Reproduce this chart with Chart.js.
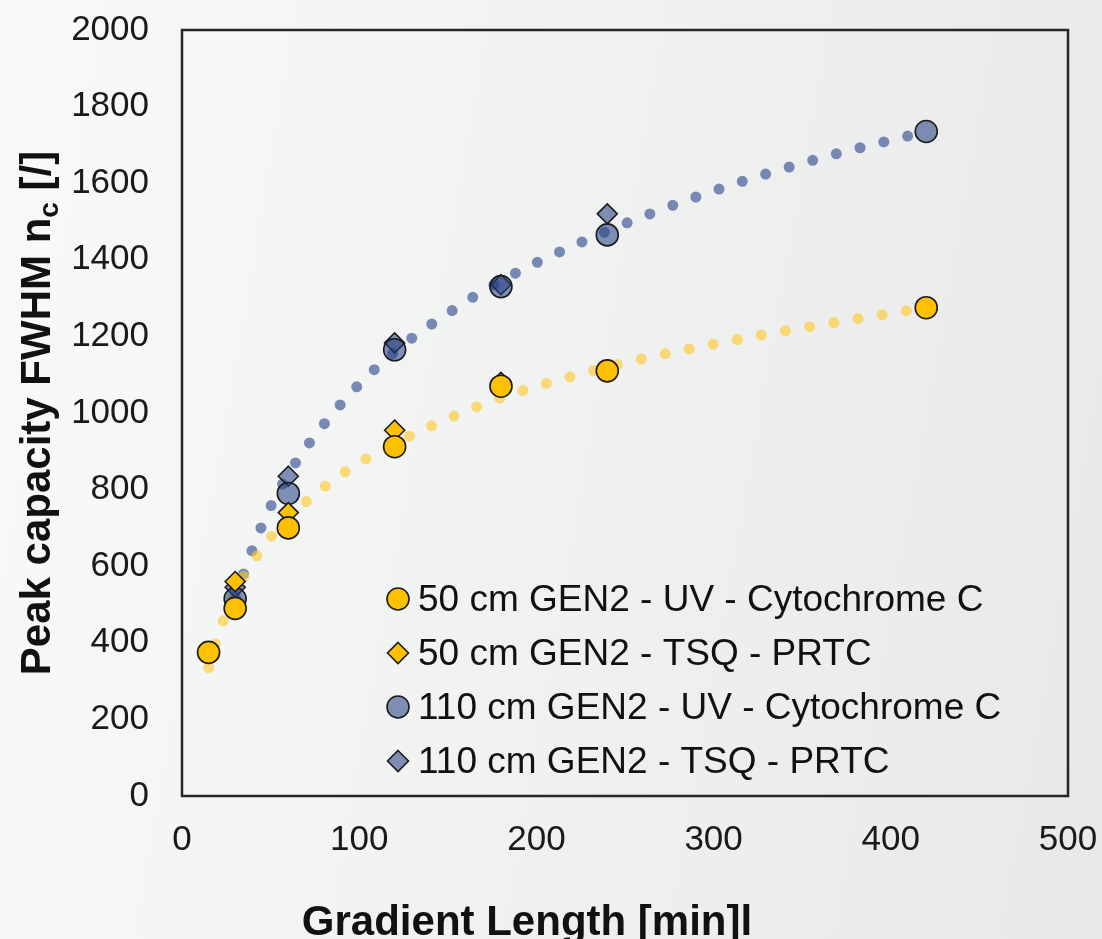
<!DOCTYPE html>
<html>
<head>
<meta charset="utf-8">
<title>Peak capacity vs gradient length</title>
<script src="https://cdn.jsdelivr.net/npm/chart.js@4.4.1/dist/chart.umd.min.js"></script>
<style>
  html, body { margin: 0; padding: 0; }
  body {
    width: 1102px;
    height: 939px;
    background: linear-gradient(100deg, #f8f9f9 0%, #f1f2f2 45%, #e8e8e8 100%);
    overflow: hidden;
  }
</style>
</head>
<body>
<canvas id="chart" width="1102" height="939"></canvas>
<script>
// measured peak capacities (x = gradient length in min)
const uv50X = [15, 30, 60, 120, 180, 240, 420];
const uv50Y = [375, 490, 700, 912, 1070, 1110, 1275];
const tsq50X = [30, 60, 120, 180];
const tsq50Y = [560, 740, 955, 1080];
const uv110X = [30, 60, 120, 180, 240, 420];
const uv110Y = [515, 790, 1165, 1330, 1465, 1735];
const tsq110X = [30, 60, 120, 180, 240];
const tsq110Y = [545, 835, 1183, 1335, 1520];

// dotted trend curves
const trend50X = [15, 20, 30, 45, 60, 90, 120, 150, 180, 240, 300, 360, 420];
const trend50Y = [335, 415, 530, 645, 725, 840, 920, 985, 1040, 1120, 1180, 1230, 1275];
const trend110X = [30, 45, 60, 90, 120, 150, 180, 240, 300, 360, 420];
const trend110Y = [520, 705, 840, 1025, 1160, 1260, 1345, 1475, 1580, 1665, 1735];

const seriesNames = [
    "50 cm GEN2 - UV - Cytochrome C",
    "50 cm GEN2 - TSQ - PRTC",
    "110 cm GEN2 - UV - Cytochrome C",
    "110 cm GEN2 - TSQ - PRTC"
];
const xTicks = [0, 100, 200, 300, 400, 500];
const yTicks = [0, 200, 400, 600, 800, 1000, 1200, 1400, 1600, 1800, 2000];

const YELLOW = "#ffc000";
const BLUE = "rgba(35, 62, 130, 0.56)";
const FONT = "'Liberation Sans', Arial, sans-serif";

function pts(xs, ys) {
    return xs.map(function (x, i) { return { x: x, y: ys[i] }; });
}

function markerSet(label, xs, ys, fill, shape, r) {
    return {
        label: label,
        data: pts(xs, ys),
        showLine: false,
        pointStyle: shape,
        pointRadius: r,
        pointBackgroundColor: fill,
        pointBorderColor: "#1b1b1b",
        pointBorderWidth: 1.6,
        order: 1
    };
}

function trendSet(xs, ys, color) {
    return {
        label: "trend",
        data: pts(xs, ys),
        showLine: true,
        pointRadius: 0,
        borderColor: color,
        borderWidth: 11,
        borderCapStyle: "round",
        borderDash: [0, 24.5],
        cubicInterpolationMode: "monotone",
        fill: false,
        order: 5
    };
}

const datasets = [
    markerSet(seriesNames[0], uv50X, uv50Y, YELLOW, "circle", 11),
    markerSet(seriesNames[1], tsq50X, tsq50Y, YELLOW, "rectRot", 10),
    markerSet(seriesNames[2], uv110X, uv110Y, BLUE, "circle", 11),
    markerSet(seriesNames[3], tsq110X, tsq110Y, BLUE, "rectRot", 10),
    trendSet(trend50X, trend50Y, "rgba(255, 200, 40, 0.62)"),
    trendSet(trend110X, trend110Y, "rgba(70, 95, 155, 0.72)")
];

// box around the plot area
const frame = {
    id: "frame",
    beforeDatasetsDraw(chart) {
        const a = chart.chartArea;
        const ctx = chart.ctx;
        ctx.save();
        ctx.strokeStyle = "#262626";
        ctx.lineWidth = 2.5;
        ctx.strokeRect(a.left, a.top, a.right - a.left, a.bottom - a.top);
        ctx.restore();
    }
};

// axis titles (y title has a subscript)
const titles = {
    id: "titles",
    afterDraw(chart) {
        const ctx = chart.ctx;
        const a = chart.chartArea;
        ctx.save();
        ctx.fillStyle = "#111";
        ctx.textBaseline = "alphabetic";

        ctx.font = "bold 42px " + FONT;
        ctx.textAlign = "center";
        ctx.fillText("Gradient Length [min]l", 527, 935);

        const big = "bold 42px " + FONT;
        const small = "bold 28px " + FONT;
        const partA = "Peak capacity FWHM n";
        const partB = "c";
        const partC = " [/]";
        ctx.font = big;
        const wA = ctx.measureText(partA).width;
        const wC = ctx.measureText(partC).width;
        ctx.font = small;
        const wB = ctx.measureText(partB).width;
        const total = wA + wB + wC;
        ctx.translate(50, (a.top + a.bottom) / 2);
        ctx.rotate(-Math.PI / 2);
        ctx.textAlign = "left";
        let x = -total / 2;
        ctx.font = big;
        ctx.fillText(partA, x, 0);
        x += wA;
        ctx.font = small;
        ctx.fillText(partB, x, 8);
        x += wB;
        ctx.font = big;
        ctx.fillText(partC, x, 0);
        ctx.restore();
    }
};

// legend drawn inside the plot
const innerLegend = {
    id: "innerLegend",
    afterDraw(chart) {
        const ctx = chart.ctx;
        const rows = [599, 653, 707, 761];
        const mx = 398;
        ctx.save();
        ctx.font = "37px " + FONT;
        ctx.textBaseline = "middle";
        ctx.textAlign = "left";
        for (let i = 0; i < 4; i++) {
            const ds = chart.data.datasets[i];
            const y = rows[i];
            ctx.beginPath();
            if (ds.pointStyle === "circle") {
                ctx.arc(mx, y, 11, 0, Math.PI * 2);
            } else {
                const r = 10.5;
                ctx.moveTo(mx, y - r);
                ctx.lineTo(mx + r, y);
                ctx.lineTo(mx, y + r);
                ctx.lineTo(mx - r, y);
                ctx.closePath();
            }
            ctx.fillStyle = ds.pointBackgroundColor;
            ctx.fill();
            ctx.lineWidth = 1.6;
            ctx.strokeStyle = "#1b1b1b";
            ctx.stroke();
            ctx.fillStyle = "#111";
            ctx.fillText(ds.label, 418, y + 2);
        }
        ctx.restore();
    }
};

function plain(v) { return String(v); }

new Chart(document.getElementById("chart"), {
    type: "scatter",
    data: { datasets: datasets },
    options: {
        responsive: false,
        animation: false,
        layout: { padding: { top: 30, right: 34, left: 0, bottom: 0 } },
        plugins: {
            legend: { display: false },
            tooltip: { enabled: false }
        },
        scales: {
            x: {
                type: "linear",
                min: 0,
                max: 500,
                afterBuildTicks(scale) {
                    scale.ticks = xTicks.map(function (v) { return { value: v }; });
                },
                afterFit(scale) {
                    scale.height = 143;
                    scale.paddingLeft = 0;
                    scale.paddingRight = 0;
                },
                grid: { display: false, drawTicks: false },
                border: { display: false },
                ticks: {
                    color: "#1a1a1a",
                    font: { family: FONT, size: 35 },
                    padding: 23,
                    maxRotation: 0,
                    callback: plain
                }
            },
            y: {
                type: "linear",
                min: 0,
                max: 2000,
                afterBuildTicks(scale) {
                    scale.ticks = yTicks.map(function (v) { return { value: v }; });
                },
                afterFit(scale) {
                    scale.width = 182;
                    scale.paddingTop = 0;
                    scale.paddingBottom = 0;
                },
                grid: { display: false, drawTicks: false },
                border: { display: false },
                ticks: {
                    color: "#1a1a1a",
                    font: { family: FONT, size: 35 },
                    padding: 33,
                    callback: plain
                }
            }
        }
    },
    plugins: [frame, titles, innerLegend]
});
</script>
</body>
</html>
